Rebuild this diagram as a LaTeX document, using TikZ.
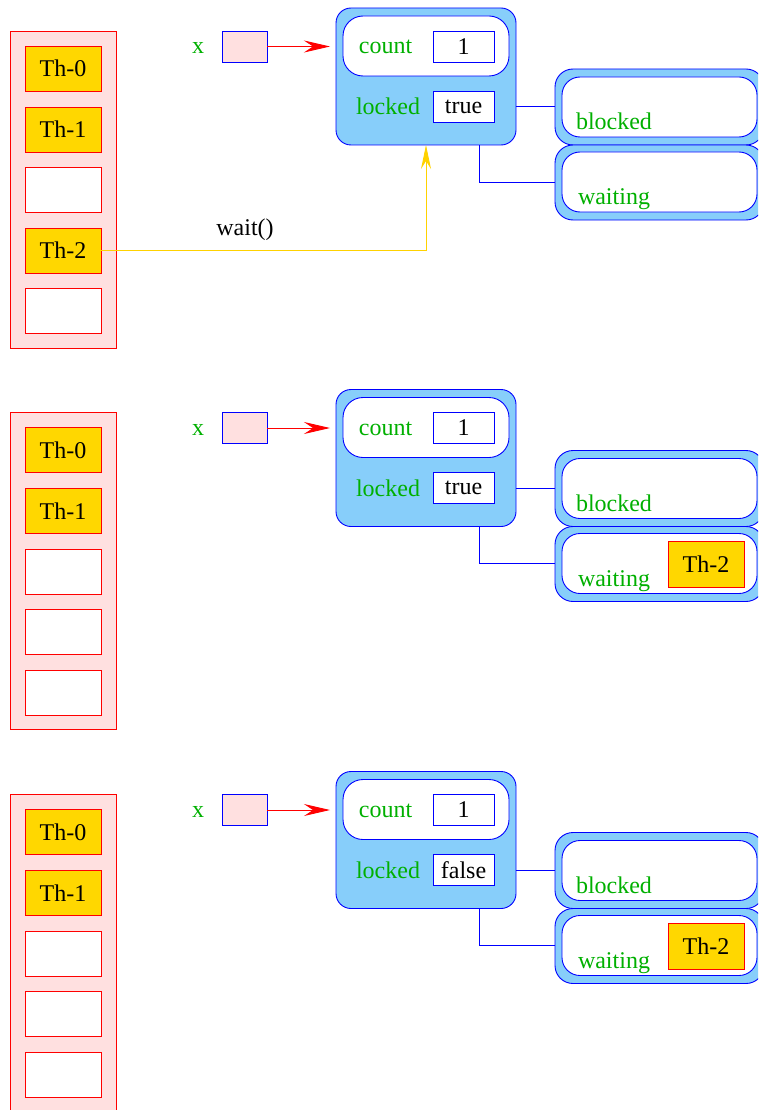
\documentclass[tikz,border=0pt]{standalone}
\usepackage{fontspec}
\setmainfont{Liberation Serif}
\usetikzlibrary{arrows.meta}
\definecolor{pinkfill}{RGB}{255,224,224}
\definecolor{goldfill}{RGB}{255,215,0}
\definecolor{skyfill}{RGB}{135,206,250}
\definecolor{labgreen}{RGB}{0,176,0}
\definecolor{yline}{RGB}{255,210,0}
\tikzset{
  every node/.style={font=\fontsize{24}{28}\selectfont, inner sep=0pt, outer sep=0pt},
  tbl/.style={draw=red, fill=pinkfill, line width=0.9pt, minimum width=106pt, minimum height=317pt},
  thr/.style={draw=red, fill=goldfill, line width=0.9pt, minimum width=76pt, minimum height=45pt},
  emptyslot/.style={draw=red, fill=white, line width=0.9pt, minimum width=76pt, minimum height=45pt},
  xlab/.style={text=labgreen},
  ptr/.style={draw=blue, fill=pinkfill, line width=0.9pt, minimum width=45pt, minimum height=31pt},
  mutex/.style={draw=blue, fill=skyfill, line width=0.9pt, rounded corners=15pt, minimum width=180pt, minimum height=137pt},
  cnt/.style={draw=blue, fill=white, line width=0.9pt, rounded corners=20pt, minimum width=166pt, minimum height=60pt},
  lab/.style={text=labgreen},
  val/.style={draw=blue, fill=white, line width=0.9pt, minimum width=61pt, minimum height=31pt},
  qout/.style={draw=blue, fill=skyfill, line width=0.9pt, rounded corners=18pt, minimum width=209pt},
  qin/.style={draw=blue, fill=white, line width=0.9pt, rounded corners=18pt, minimum width=195pt, minimum height=60pt},
  ptrarrow/.style={draw=red, line width=0.9pt, -{Stealth[length=26pt,width=12pt,inset=9pt]}},
  link/.style={draw=blue, line width=0.9pt},
  yarrow/.style={draw=yline, line width=0.9pt, -{Stealth[length=24pt,width=10pt,inset=8pt]}}
}
\newcommand\mutexpanel[3]{%
\begin{scope}[shift={(0,#2)}]
  \node[tbl] (#1tbl) at (63,189.5) {};
  \node[xlab, anchor=base] (#1xl) at (198,54) {x};
  \node[ptr] (#1x) at (244.5,46.5) {};
  \node[mutex] (#1m) at (426,76.5) {};
  \node[cnt] (#1c) at (426,46) {};
  \node[lab, anchor=base] (#1cl) at (385.5,54) {count};
  \node[val] (#1cv) at (463.5,46.5) {1};
  \node[lab, anchor=base] (#1ll) at (388,115) {locked};
  \node[val] (#1lv) at (463.5,106.5) {#3};
  \node[qout, minimum height=76pt] (#1bo) at (659.5,107) {};
  \node[qin] (#1bi) at (659.5,107) {};
  \node[lab, anchor=base west] (#1bl) at (576,129.5) {blocked};
  \node[qout, minimum height=75pt] (#1wo) at (659.5,182.5) {};
  \node[qin] (#1wi) at (659.5,182) {};
  \node[lab, anchor=base west] (#1wl) at (578,204.5) {waiting};
  \coordinate (#1j) at (479,182);
  \draw[ptrarrow] (#1x.east) -- ([xshift=-6pt]#1m.west |- #1x.east);
  \draw[link] (#1m.east |- #1lv) -- (#1bo.west |- #1lv);
  \draw[link] (#1m.south -| #1j) -- (#1j) -- (#1wo.west |- #1j);
\end{scope}}
\begin{document}
\begin{tikzpicture}[x=1pt,y=-1pt]
\useasboundingbox (0,0) rectangle (758,1110);
\clip (0,0) rectangle (758,1110);
% panel 1
\mutexpanel{a}{0}{true}
\node[thr] (as0) at (63,68.5) {Th-0};
\node[thr] (as1) at (63,129.5) {Th-1};
\node[emptyslot] (as2) at (63,190) {};
\node[thr] (as3) at (63,250.5) {Th-2};
\node[emptyslot] (as4) at (63,311) {};
\draw[yarrow] (as3.east) -| (am.south);
\node[anchor=base] (await) at (245,235) {wait()};
% panel 2
\mutexpanel{b}{381.5}{true}
\begin{scope}[shift={(0,381.5)}]
\node[thr] (bs0) at (63,68.5) {Th-0};
\node[thr] (bs1) at (63,129.5) {Th-1};
\node[emptyslot] (bs2) at (63,190) {};
\node[emptyslot] (bs3) at (63,250.5) {};
\node[emptyslot] (bs4) at (63,311) {};
\node[thr, minimum height=46pt] (bq) at (706,182.5) {Th-2};
\end{scope}
% panel 3
\mutexpanel{c}{763.5}{false}
\begin{scope}[shift={(0,763.5)}]
\node[thr] (cs0) at (63,68.5) {Th-0};
\node[thr] (cs1) at (63,129.5) {Th-1};
\node[emptyslot] (cs2) at (63,190) {};
\node[emptyslot] (cs3) at (63,250.5) {};
\node[emptyslot] (cs4) at (63,311) {};
\node[thr, minimum height=46pt] (cq) at (706,182.5) {Th-2};
\end{scope}
\end{tikzpicture}
\end{document}
